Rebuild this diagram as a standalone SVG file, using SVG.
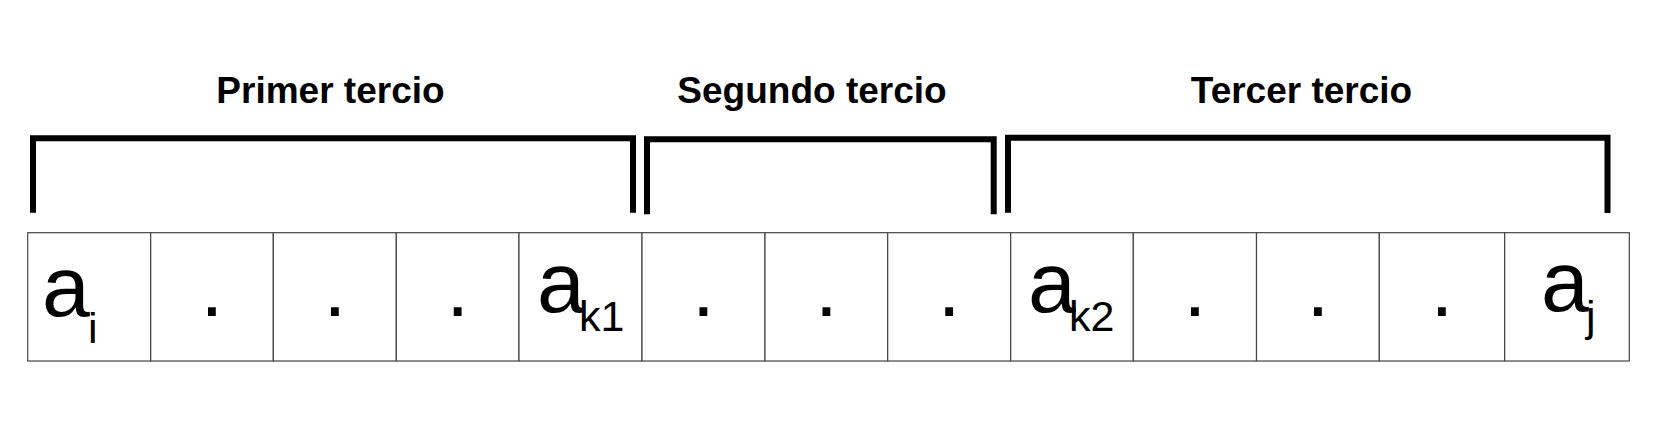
<svg xmlns="http://www.w3.org/2000/svg" width="1653" height="434" viewBox="0 0 1653 434">
<style>
.cell{fill:#fff;stroke:#444;stroke-width:1.2}
.br{fill:none;stroke:#000;stroke-width:6;stroke-linejoin:miter;stroke-linecap:butt}
.lbl{font-family:"Liberation Sans",Arial,sans-serif;font-weight:bold;font-size:37px;fill:#000;text-anchor:middle}
.big{font-family:"Liberation Sans",Arial,sans-serif;font-size:86px;fill:#000}
.dot{text-anchor:middle;font-size:82px}
.sub{font-family:"Liberation Sans",Arial,sans-serif;font-size:43px;fill:#000}
</style>
<rect width="1653" height="434" fill="#fff"/>
<g id="labels">
<text class="lbl" x="330.5" y="103">Primer tercio</text>
<text class="lbl" x="812" y="103">Segundo tercio</text>
<text class="lbl" x="1301.5" y="103">Tercer tercio</text>
</g>
<g id="connectors">
<path class="br" d="M33,212.7 V138.3 H633 V212.7"/>
<path class="br" d="M647,214.3 V139.3 H993.7 V214.3"/>
<path class="br" d="M1008,212.7 V137.8 H1607.5 V213"/>
</g>
<g id="cell1"><rect class="cell" x="27.7" y="232.7" width="123" height="128.3"/><text class="big" x="42" y="316">a</text><text class="sub" x="88" y="343" font-size="48">i</text></g>
<g id="cell2"><rect class="cell" x="150.7" y="232.7" width="122.6" height="128.3"/><text class="big dot" x="212" y="316">.</text></g>
<g id="cell3"><rect class="cell" x="273.3" y="232.7" width="123" height="128.3"/><text class="big dot" x="334.8" y="316">.</text></g>
<g id="cell4"><rect class="cell" x="396.3" y="232.7" width="122.7" height="128.3"/><text class="big dot" x="457.7" y="316">.</text></g>
<g id="cell5"><rect class="cell" x="519" y="232.7" width="123" height="128.3"/><text class="big" x="537" y="311.5">a</text><text class="sub" x="579" y="331">k1</text></g>
<g id="cell6"><rect class="cell" x="642" y="232.7" width="123" height="128.3"/><text class="big dot" x="703.5" y="316">.</text></g>
<g id="cell7"><rect class="cell" x="765" y="232.7" width="122.7" height="128.3"/><text class="big dot" x="826.3" y="316">.</text></g>
<g id="cell8"><rect class="cell" x="887.7" y="232.7" width="123" height="128.3"/><text class="big dot" x="949.2" y="316">.</text></g>
<g id="cell9"><rect class="cell" x="1010.7" y="232.7" width="122.6" height="128.3"/><text class="big" x="1028" y="311.5">a</text><text class="sub" x="1069" y="331">k2</text></g>
<g id="cell10"><rect class="cell" x="1133.3" y="232.7" width="123.2" height="128.3"/><text class="big dot" x="1195" y="316">.</text></g>
<g id="cell11"><rect class="cell" x="1256.5" y="232.7" width="122.8" height="128.3"/><text class="big dot" x="1318" y="316">.</text></g>
<g id="cell12"><rect class="cell" x="1379.3" y="232.7" width="125.4" height="128.3"/><text class="big dot" x="1442" y="316">.</text></g>
<g id="cell13"><rect class="cell" x="1504.7" y="232.7" width="124.6" height="128.3"/><text class="big" x="1541" y="311">a</text><text class="sub" x="1586" y="331" font-size="46">j</text></g>
</svg>
